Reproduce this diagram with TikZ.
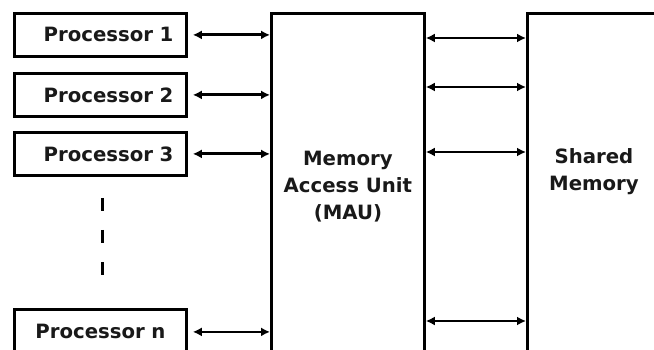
\documentclass[tikz,border=0pt]{standalone}
\usepackage{fontspec}
\setmainfont{DejaVu Sans}
\usetikzlibrary{arrows.meta}
\begin{document}
\begin{tikzpicture}[x=1pt,y=-1pt,
  txt/.style={font=\fontsize{19.7}{27}\selectfont\bfseries, text=black!90},
  box/.style={draw, line width=2.8pt, inner sep=0pt, txt, align=center},
  procbox/.style={box, minimum width=172pt, minimum height=43pt, anchor=north west, text width=146pt, align=right},
  link/.style={line width=2.8pt, {Latex[length=9pt,width=9pt]}-{Latex[length=9pt,width=9pt]}},
  lbl/.style={txt, align=center, inner sep=0pt}]
\useasboundingbox (0,0) rectangle (654,350);
\node[procbox] (p1) at (13,12) {Processor 1};
\node[procbox] (p2) at (13,72) {Processor 2};
\node[procbox] (p3) at (13,131) {Processor 3};
\node[procbox, minimum height=45pt, align=center] (pn) at (13,308) {Processor n};
\node[box, anchor=north west, minimum width=153pt, minimum height=346pt] (mau) at (270,12) {Memory\\Access Unit\\(MAU)};
\node[box, anchor=north west, minimum width=138pt, minimum height=350pt] (sm) at (526,12) {};
\node[lbl] (smt) at (594,172) {Shared\\Memory};
\draw[link] ([xshift=5pt]p1.east) -- (p1.east -| mau.west);
\draw[link] ([xshift=5pt]p2.east) -- (p2.east -| mau.west);
\draw[link] ([xshift=5pt]p3.east) -- (p3.east -| mau.west);
\draw[link] ([xshift=5pt]pn.east) -- (pn.east -| mau.west);
\coordinate (m1) at (0,38);
\coordinate (m2) at (0,87);
\coordinate (m3) at (0,152);
\coordinate (m4) at (0,321);
\foreach \m in {m1,m2,m3,m4}
  \draw[link] (mau.east |- \m) -- (sm.west |- \m);
\coordinate (d1) at (102,198);
\coordinate (d2) at (102,277);
\draw[line width=3pt, dash pattern=on 13pt off 19pt] (d1) -- (d2);
\end{tikzpicture}
\end{document}
